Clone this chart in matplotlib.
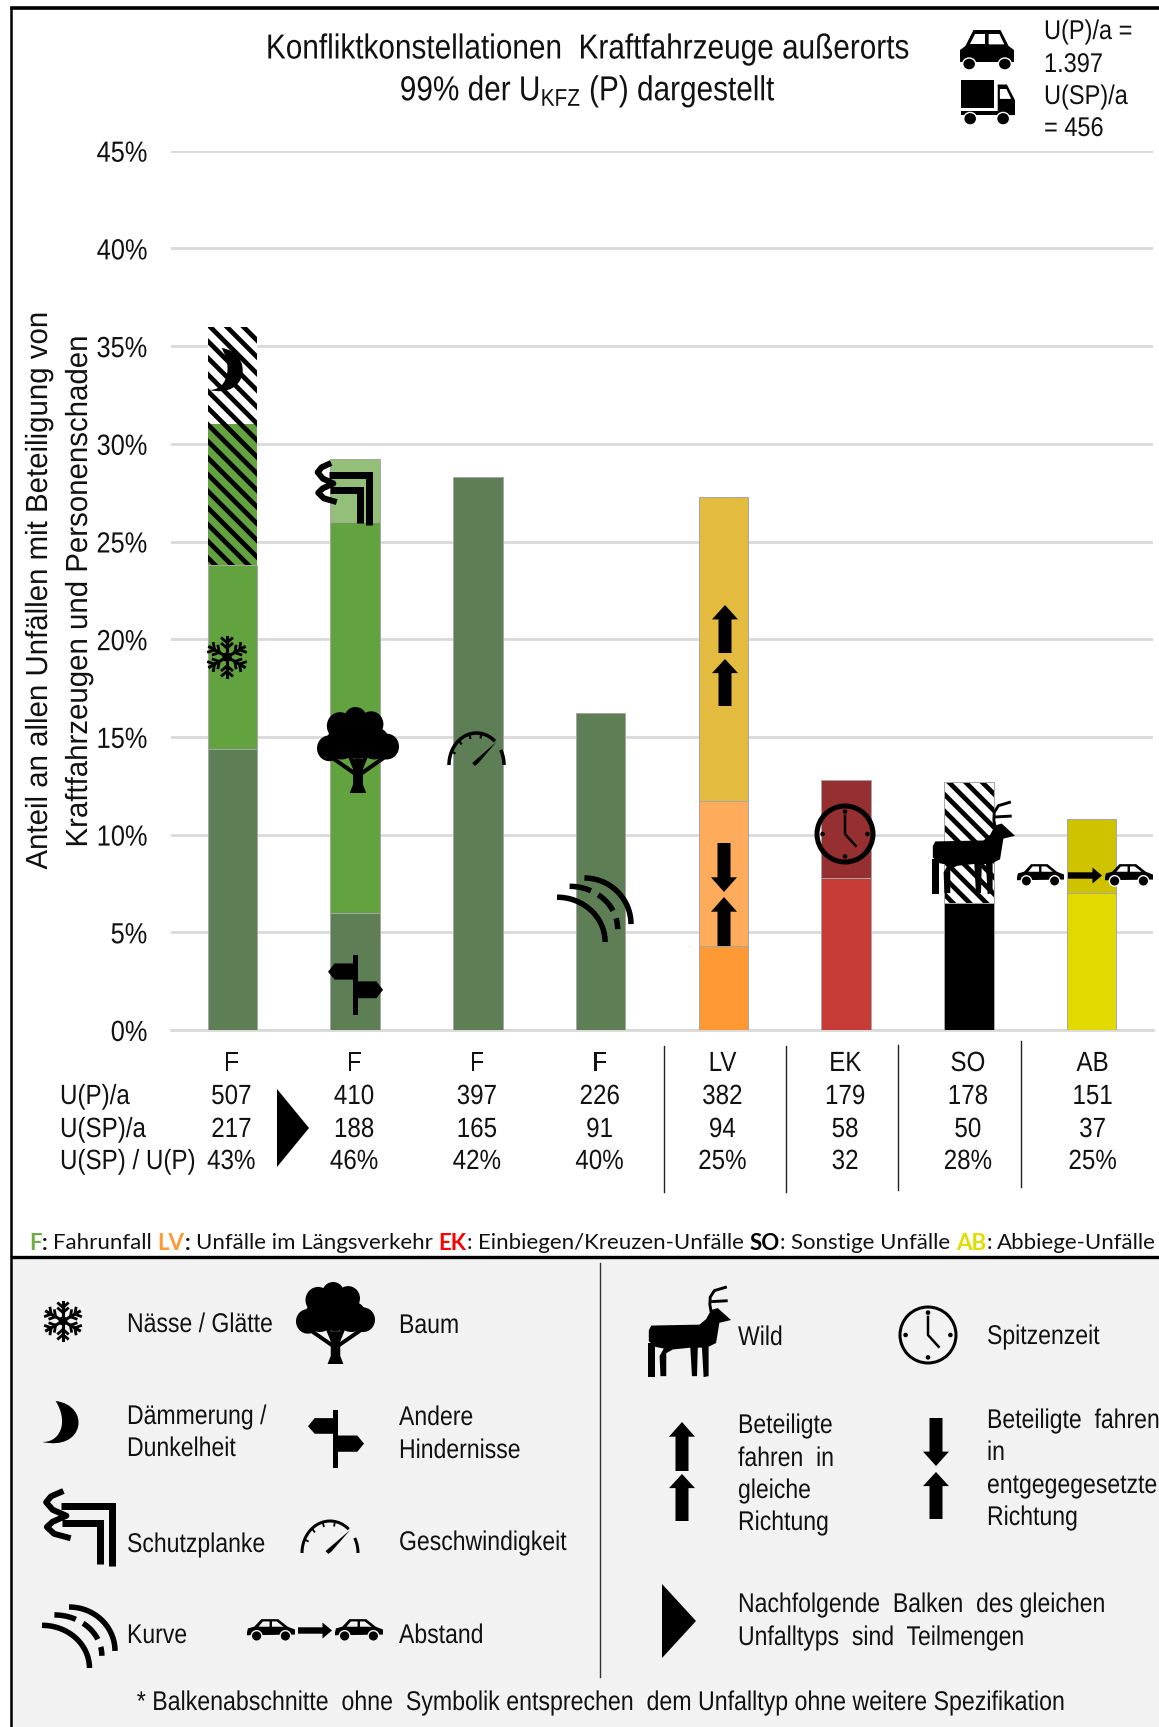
import numpy as np
import matplotlib
matplotlib.use("Agg")
import matplotlib.pyplot as plt
from matplotlib.patches import Rectangle, Polygon, Circle, Ellipse, PathPatch
from matplotlib.patheffects import AbstractPathEffect
from matplotlib.path import Path
from matplotlib.transforms import Affine2D

W, H = 1159, 1727
plt.rcParams["font.family"] = ["Liberation Sans"]
plt.rcParams["mathtext.default"] = "regular"
plt.rcParams["hatch.linewidth"] = 3.4

# --- data ---
categories = ["F", "F", "F", "F", "LV", "EK", "SO", "AB"]
u_p = ["507", "410", "397", "226", "382", "179", "178", "151"]
u_sp = ["217", "188", "165", "91", "94", "58", "50", "37"]
ratio = ["43%", "46%", "42%", "40%", "25%", "32", "28%", "25%"]
row_labels = ["U(P)/a", "U(SP)/a", "U(SP) / U(P)"]
yticks = [0, 5, 10, 15, 20, 25, 30, 35, 40, 45]

# segment heights per bar, bottom to top (percent)
bar_segments = [
    [14.4, 9.4, 7.2, 5.0],
    [6.0, 20.0, 3.2],
    [28.3],
    [16.2],
    [4.3, 7.4, 15.6],
    [7.8, 5.0],
    [6.5, 6.2],
    [7.0, 3.8],
]
G_DARK, G_MID, G_LIGHT = "#5E7F55", "#62A33F", "#93BF78"
bar_colors = [
    [G_DARK, G_MID, G_MID, "white"],
    [G_DARK, G_MID, G_LIGHT],
    [G_DARK],
    [G_DARK],
    ["#FF9933", "#FFAB5C", "#E3BC3F"],
    ["#C63B36", "#962F30"],
    ["black", "white"],
    ["#E2D900", "#CFC300"],
]
bar_hatch = [
    [None, None, "\\\\", "\\\\"],
    [None, None, None],
    [None],
    [None],
    [None, None, None],
    [None, None],
    [None, "\\\\"],
    [None, None],
]


class Squeeze(AbstractPathEffect):
    # the reference is squashed sideways, no narrow font installed so scale the glyphs
    def __init__(self, sx=0.87, sy=1.0, anchor="left"):
        super().__init__()
        self.sx, self.sy, self.anchor = sx, sy, anchor

    def draw_path(self, renderer, gc, tpath, affine, rgbFace=None):
        e = tpath.get_extents()
        a = {"left": 0, "center": (e.x0 + e.x1) / 2, "right": e.x1}[self.anchor]
        t = Affine2D().translate(-a, 0).scale(self.sx, self.sy).translate(a, 0)
        renderer.draw_path(gc, tpath, t + affine, rgbFace)


fig = plt.figure(figsize=(W / 100, H / 100), dpi=100)

# --- chart, placed in pixel positions ---
x0, x1, y_top, y_zero = 171, 1153, 150.7, 1030
ax = fig.add_axes([x0 / W, 1 - y_zero / H, (x1 - x0) / W, (y_zero - y_top) / H])
for i, segs in enumerate(bar_segments):
    bottom = 0
    for val, col, hat in zip(segs, bar_colors[i], bar_hatch[i]):
        if hat:
            ax.bar(i, val, 0.405, bottom=bottom, color=col, edgecolor="black", hatch=hat, linewidth=0, zorder=3)
            if i == 6:
                ax.bar(i, val, 0.405, bottom=bottom, color="none", edgecolor="#A6A6A6", linewidth=0.7, zorder=3)
        else:
            ax.bar(i, val, 0.405, bottom=bottom, color=col, edgecolor="#A6A6A6", linewidth=0.7, zorder=3)
        bottom += val
ax.set_xlim(-0.5, 7.5)
ax.set_ylim(0, 45)
ax.set_yticks(yticks)
ax.set_yticklabels([f"{t}%" for t in yticks], fontsize=21)
for lab in ax.get_yticklabels():
    lab.set_path_effects([Squeeze(anchor="right")])
    lab.set_color("#111111")
ax.set_xticks([])
ax.tick_params(axis="y", length=0, pad=17)
ax.grid(axis="y", color="#D9D9D9", linewidth=2, zorder=0)
ax.set_axisbelow(True)
for s in ax.spines.values():
    s.set_visible(False)
ax.patch.set_alpha(0)
ax.axhline(0, color="#D9D9D9", linewidth=2, zorder=1, clip_on=False)

# --- overlay in pixel coords ---
ov = fig.add_axes([0, 0, 1, 1], zorder=5)
ov.set_xlim(0, W)
ov.set_ylim(H, 0)
ov.axis("off")


def txt(x, y, s, size=20, ha="left", va="center", sx=0.87, **kw):
    t = ov.text(x, y + 2, s, fontsize=size, ha=ha, va=va, color=kw.pop("color", "#111111"), **kw)
    if sx != 1:
        t.set_path_effects([Squeeze(sx=sx, anchor=ha)])
    return t


def box(b, pts):
    px0, py0, px1, py1 = b
    return [(px0 + (px1 - px0) * a, py0 + (py1 - py0) * c) for a, c in pts]


def poly(b, pts, color="black", z=6):
    ov.add_patch(Polygon(box(b, pts), closed=True, facecolor=color, edgecolor="none", zorder=z))


def line(b, pts, lw, color="black", z=6, join="miter", **kw):
    p = np.array(box(b, pts))
    ov.plot(p[:, 0], p[:, 1], color=color, lw=lw * 0.72, zorder=z, solid_capstyle="butt",
            solid_joinstyle=join, **kw)


def arc_pts(cx, cy, rx, ry, a0, a1, n=30):
    t = np.radians(np.linspace(a0, a1, n))
    return list(zip(cx + rx * np.cos(t), cy + ry * np.sin(t)))


def snow(cx, cy, r):
    for a in range(30, 360, 60):
        ca, sa = np.cos(np.radians(a)), np.sin(np.radians(a))
        ov.plot([cx, cx + r * ca], [cy, cy + r * sa], color="black", lw=2.2, zorder=6)
        for f in (0.45, 0.72):
            for d in (-50, 50):
                ex = np.cos(np.radians(a + d))
                ey = np.sin(np.radians(a + d))
                ov.plot([cx + f * r * ca, cx + f * r * ca + 0.32 * r * ex],
                        [cy + f * r * sa, cy + f * r * sa + 0.32 * r * ey], color="black", lw=2, zorder=6)
    ov.add_patch(Circle((cx, cy), r * 0.2, color="black", zorder=6))


def moon(b):
    pts = box(b, [(0.35, 0), (1.25, 0.1), (1.1, 1.15), (0, 0.93), (0.45, 0.95), (0.7, 0.5), (0.35, 0), (0.35, 0)])
    codes = [Path.MOVETO, Path.CURVE4, Path.CURVE4, Path.CURVE4, Path.CURVE4, Path.CURVE4, Path.CURVE4, Path.CLOSEPOLY]
    ov.add_patch(PathPatch(Path(pts, codes), facecolor="black", edgecolor="none", zorder=6))


def tree(b):
    w = b[2] - b[0]
    h = b[3] - b[1]
    for cx, cy, r in [(.47, .14, .14), (.28, .22, .16), (.66, .2, .15), (.15, .48, .15), (.85, .46, .15),
                      (.5, .33, .27), (.3, .42, .19), (.7, .42, .19)]:
        ov.add_patch(Ellipse((b[0] + cx * w, b[1] + cy * h), 2 * r * w, 2 * r * h, color="black", lw=0, zorder=6))
    poly(b, [(.4, 1), (.6, 1), (.56, .9), (.56, .72), (.56, .6), (.44, .6), (.44, .72), (.44, .9)])
    for e in [(.17, .58), (.83, .58), (.38, .52), (.62, .52)]:
        line(b, [(.5, .8), e], 0.05 * w)


def guard(b):
    line(b, [(.24, .2), (.94, .2), (.94, 1)], 7)
    line(b, [(.25, .43), (.78, .43), (.78, .97)], 7)
    line(b, [(.27, 0), (.1, .07), (.03, .15), (.12, .25), (.31, .33), (.12, .41), (.04, .48), (.14, .57), (.37, .63)],
         6, join="round")


def sign(b):
    poly(b, [(.45, 0), (.54, 0), (.54, 1), (.45, 1)])
    poly(b, [(0, .28), (.12, .14), (.5, .14), (.5, .41), (.12, .41)])
    poly(b, [(.5, .44), (.88, .44), (1, .58), (.88, .72), (.5, .72)])


def gauge(b, lw):
    line(b, arc_pts(.5, 1, .5, 1, 180, 312), lw)
    line(b, arc_pts(.5, 1, .5, 1, 332, 360, 8), lw)
    for a in (205, 230, 255, 280):
        c, s = np.cos(np.radians(a)), np.sin(np.radians(a))
        line(b, [(.5 + .5 * c, 1 + s), (.5 + .42 * c, 1 + .84 * s)], lw * .6)
    poly(b, [(.42, .94), (.47, 1.03), (.53, .95), (.86, .28)])


def curve(b, lw):
    line(b, arc_pts(.37, .72, .63, .72, -90, 0), lw)
    line(b, arc_pts(.17, .8, .65, .67, -90, 0), lw, linestyle=(0, (4, 1.5)))
    line(b, arc_pts(0, 1, .65, .7, -90, 0), lw)


def car(b, bg):
    w = b[2] - b[0]
    poly(b, [(0, .62), (.02, .45), (.15, .38), (.3, .05), (.65, .05), (.85, .38), (1, .5), (1, .72), (0, .75)])
    poly(b, [(.24, .38), (.33, .15), (.47, .15), (.47, .38)], color=bg, z=7)
    poly(b, [(.52, .15), (.62, .15), (.76, .38), (.52, .38)], color=bg, z=7)
    hh = b[3] - b[1]
    for cx in (.2, .8):
        ov.add_patch(Circle((b[0] + cx * w, b[1] + .78 * hh), .11 * w, facecolor="black", edgecolor=bg, lw=1, zorder=7))


def cars(xa, xb, xc, xd, xe, xf, y0, y1, bg):
    car((xa, y0, xb, y1), bg)
    ym = (y0 + y1) / 2 + 1
    bx = (xc, ym - 8, xd, ym + 8)
    poly(bx, [(0, .3), (.72, .3), (.72, 0), (1, .5), (.72, 1), (.72, .7), (0, .7)])
    car((xe, y0, xf, y1), bg)


def up(cx, y0, y1, w=26):
    poly((cx - w / 2, y0, cx + w / 2, y1), [(.5, 0), (1, .3), (.75, .3), (.75, 1), (.25, 1), (.25, .3), (0, .3)])


def down(cx, y0, y1, w=26):
    poly((cx - w / 2, y0, cx + w / 2, y1), [(.5, 1), (1, .7), (.75, .7), (.75, 0), (.25, 0), (.25, .7), (0, .7)])


def clock(cx, cy, r, lw):
    ov.add_patch(Circle((cx, cy), r, facecolor="none", edgecolor="black", lw=lw * 0.72, zorder=6))
    ov.plot([cx, cx, cx + .38 * r], [cy - .65 * r, cy, cy + .42 * r], color="black", lw=1.8, zorder=6)
    for dx, dy in [(0, -.8), (0, .8), (-.8, 0), (.8, 0)]:
        ov.add_patch(Circle((cx + dx * r, cy + dy * r), .035 * r + .6, color="black", zorder=6))


def deer(b):
    w = b[2] - b[0]
    poly(b, [(.04, .43), (.62, .42), (.7, .36), (.76, .26), (.84, .24), (1, .37), (.86, .40), (.82, .62), (.73, .66),
             (.73, .98), (.67, .99), (.65, .67), (.60, .67), (.59, .98), (.53, .98), (.51, .67), (.30, .69),
             (.22, .73), (.22, .98), (.15, .98), (.14, .76), (.19, .68), (.08, .66), (.01, .60), (.01, .48)])
    poly(b, [(0, .62), (.08, .62), (.08, .99), (0, .99)])
    line(b, [(.76, .28), (.745, .2), (.75, .12), (.8, .05), (.95, .01)], .035 * w, join="round")
    line(b, [(.76, .17), (.96, .16)], .035 * w)


def head_car(b):
    poly(b, [(.25, 0), (.75, 0), (.9, .4), (1, .5), (1, .8), (0, .8), (0, .5), (.1, .4)])
    poly(b, [(.27, .1), (.47, .1), (.47, .36), (.18, .36)], color="white", z=7)
    poly(b, [(.53, .1), (.73, .1), (.82, .36), (.53, .36)], color="white", z=7)
    ws = b[2] - b[0]
    hs = b[3] - b[1]
    for cx in (.17, .83):
        ov.add_patch(Ellipse((b[0] + cx * ws, b[1] + .85 * hs), .24 * ws, .3 * hs, facecolor="black", edgecolor="white", lw=1, zorder=7))


def truck(b):
    poly(b, [(0, 0), (.62, 0), (.62, .62), (0, .62)])
    poly(b, [(.68, .1), (.85, .1), (1, .45), (1, .78), (.68, .78)])
    poly(b, [(.72, .2), (.84, .2), (.93, .42), (.72, .42)], color="white", z=7)
    poly(b, [(0, .68), (1, .68), (1, .78), (0, .78)])
    ws = b[2] - b[0]
    hs = b[3] - b[1]
    for cx in (.17, .78):
        ov.add_patch(Ellipse((b[0] + cx * ws, b[1] + .86 * hs), .24 * ws, .28 * hs, facecolor="black", edgecolor="white", lw=1, zorder=7))


# --- frame and legend panel ---
ov.add_patch(Rectangle((12, 1258), W - 12, H - 1258, facecolor="#F2F2F2", edgecolor="none", zorder=1))
ov.plot([12, W], [8, 8], color="black", lw=2.6, zorder=2)
ov.plot([11, 11], [8, H], color="black", lw=1.8, zorder=2)
ov.plot([12, W], [1257, 1257], color="black", lw=2.4, zorder=2)

# --- header ---
txt(588, 47, "Konfliktkonstellationen  Kraftfahrzeuge außerorts", 25, ha="center", sx=0.857)
txt(588, 89, "99% der U$_{KFZ}$ (P) dargestellt", 25, ha="center", sx=0.857)
for y, s in zip([30, 63, 95, 127], ["U(P)/a =", "1.397", "U(SP)/a", "= 456"]):
    txt(1044, y, s, 19.5)
head_car((960, 30, 1014, 70))
truck((961, 80, 1015, 125))

# y label
for x, s in [(39, "Anteil an allen Unfällen mit Beteiligung von"), (79, "Kraftfahrzeugen und Personenschaden")]:
    txt(x, 590, s, 22, ha="center", sx=0.963, rotation=90)

# --- table below chart ---
centers = [x0 + (i + 0.5) * (x1 - x0) / 8 for i in range(8)]
for i, c in enumerate(centers):
    for y, s in zip([1062, 1095, 1128, 1160], [categories[i], u_p[i], u_sp[i], ratio[i]]):
        txt(c - 1 if i < 7 else c + 1, y, s, 20, ha="center")
for y, s in zip([1095, 1128, 1160], row_labels):
    txt(60, y, s, 20)
for x, a, b in [(664, 1046, 1192), (786, 1046, 1192), (898, 1045, 1190), (1021, 1041, 1187)]:
    ov.plot([x, x], [a, b], color="#222222", lw=1, zorder=6)
poly((277, 1089, 309, 1167), [(0, 0), (1, .5), (0, 1)])

# --- footer line with coloured keys ---
pieces = [("F", "#70AD47", "bold"), (":", "#111111", "bold"), ("Fahrunfall  ", "#111111", "normal"),
          ("LV", "#FF9933", "bold"), (":", "#111111", "bold"), ("Unfälle im Längsverkehr  ", "#111111", "normal"),
          ("EK", "#FF0000", "bold"), (":", "#111111", "normal"), ("Einbiegen/Kreuzen-Unfälle  ", "#111111", "normal"),
          ("SO", "#000000", "bold"), (":", "#111111", "normal"), ("Sonstige Unfälle  ", "#111111", "normal"),
          ("AB", "#E2DC00", "bold"), (":", "#111111", "normal"), ("Abbiege-Unfälle", "#111111", "normal")]
fig.canvas.draw()
rend = fig.canvas.get_renderer()
xpos = 29
for s, col, wt in pieces:
    t = txt(xpos, 1241, s.rstrip(), 16, sx=1, color=col, fontweight=wt, family=["Lato"])
    gap = 5.5 if s.endswith(" ") or s == ":" else 0.5
    xpos = t.get_window_extent(rend).x1 + gap

# --- icons on the bars ---
snow(227, 657, 20)
moon((209, 348, 245, 393))
guard((316, 463, 372, 525))
tree((317, 707, 399, 793))
sign((328, 955, 383, 1015))
gauge((449, 733, 504, 765), 3.5)
curve((557, 878, 631, 942), 5.5)
up(725, 605, 653)
up(725, 659, 706)
down(724, 843, 892)
up(724, 897, 946)
clock(845, 834, 28, 5)
deer((932, 801, 1015, 895))
cars(1017, 1064, 1068, 1102, 1105, 1153, 863, 886, "white")

# --- legend panel ---
snow(63, 1321, 19)
moon((42, 1401, 81, 1445))
guard((44, 1491, 116, 1566))
curve((42, 1607, 115, 1668), 5.5)
tree((296, 1282, 375, 1364))
sign((308, 1410, 364, 1468))
gauge((302, 1521, 358, 1553), 3)
cars(247, 295, 298, 332, 335, 383, 1618, 1641, "#F2F2F2")
deer((648, 1286, 731, 1378))
clock(928, 1335, 28, 3)
up(682, 1422, 1471)
up(682, 1474, 1521)
down(936, 1418, 1466)
up(936, 1472, 1519)
poly((662, 1584, 696, 1658), [(0, 0), (1, .5), (0, 1)])
ov.plot([600, 600], [1263, 1677], color="#333333", lw=1, zorder=6)

LS = 19.5
for x, y, s in [(127, 1323, "Nässe / Glätte"), (399, 1324, "Baum"), (127, 1415, "Dämmerung /"), (127, 1447, "Dunkelheit"),
                (399, 1416, "Andere"), (399, 1449, "Hindernisse"), (127, 1543, "Schutzplanke"),
                (399, 1541, "Geschwindigkeit"), (127, 1634, "Kurve"), (399, 1634, "Abstand"),
                (738, 1336, "Wild"), (987, 1335, "Spitzenzeit"),
                (738, 1424, "Beteiligte"), (738, 1457, "fahren  in"), (738, 1489, "gleiche"), (738, 1521, "Richtung"),
                (987, 1419, "Beteiligte  fahren"), (987, 1451, "in"), (987, 1484, "entgegegesetzte"), (987, 1516, "Richtung"),
                (738, 1603, "Nachfolgende  Balken  des gleichen"), (738, 1636, "Unfalltyps  sind  Teilmengen")]:
    txt(x, y, s, LS, sx=0.85)
txt(602, 1701, "* Balkenabschnitte  ohne  Symbolik entsprechen  dem Unfalltyp ohne weitere Spezifikation", LS, ha="center", sx=0.855)

fig.savefig("out.png", dpi=100)
